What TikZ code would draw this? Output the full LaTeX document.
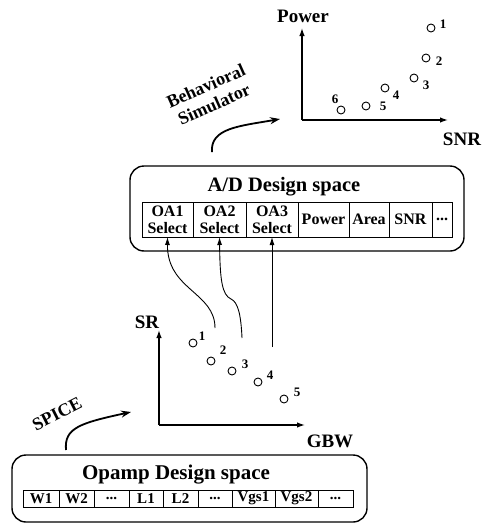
\documentclass[tikz,border=0pt]{standalone}
\usepackage{fontspec}
\setmainfont{Liberation Serif}
\usetikzlibrary{arrows.meta}
\begin{document}
\begin{tikzpicture}[x=1pt,y=-1pt,
  every node/.style={inner sep=0pt, outer sep=0pt},
  title/.style={font=\fontsize{20.5}{22}\selectfont\bfseries},
  axlab/.style={font=\fontsize{19}{21}\selectfont\bfseries},
  tool/.style={font=\fontsize{18}{20}\selectfont\bfseries, align=center},
  adfont/.style={font=\fontsize{16}{17}\selectfont\bfseries},
  opfont/.style={font=\fontsize{15}{16}\selectfont\bfseries},
  num/.style={font=\fontsize{13}{14}\selectfont\bfseries},
  axis/.style={line width=1.3pt, -{Latex[length=8pt,width=5.5pt]}},
  dot/.style={circle, draw, line width=0.9pt, minimum size=8pt},
  cell/.style={draw, line width=0.8pt, rectangle, align=center},
  adcell/.style={cell, adfont, minimum height=35pt},
  opcell/.style={cell, opfont, minimum height=17pt},
  dbox/.style={draw, line width=1.4pt, rounded corners=14pt, rectangle},
  flow/.style={line width=1.8pt, -{Stealth[length=10pt,width=7pt]}},
  link/.style={line width=0.9pt, -{Latex[length=8pt,width=5pt]}},
]
\useasboundingbox (0,0) rectangle (490,525);

% ---------- Power vs SNR plot ----------
\coordinate (po) at (302,120);
\coordinate (py) at (302,28);
\coordinate (px) at (448,120);
\draw[axis] (po) -- (py);
\draw[axis] (po) -- (px);
\node[axlab] (plab) at (303,16) {Power};
\node[axlab] (snrlab) at (462,139) {SNR};
\node[dot] (q1) at (431,28) {};  \node[num] (ql1) at (443,24) {1};
\node[dot] (q2) at (426,58) {};  \node[num] (ql2) at (439,61) {2};
\node[dot] (q3) at (414,78) {};  \node[num] (ql3) at (426,85) {3};
\node[dot] (q4) at (385,88) {};  \node[num] (ql4) at (396,95) {4};
\node[dot] (q5) at (366,106) {}; \node[num] (ql5) at (383,106) {5};
\node[dot] (q6) at (341,110) {}; \node[num] (ql6) at (335,99) {6};

% ---------- behavioral simulator step ----------
\node[tool, rotate=24] (beh) at (210,95) {Behavioral\\Simulator};
\coordinate (bs) at (212,152);
\coordinate (be) at (280,119);
\draw[flow] (bs) .. controls (210,128) and (240,126) .. (be);

% ---------- A/D design space ----------
\node[dbox, minimum width=334pt, minimum height=85pt] (adbox) at (297,208.5) {};
\node[title] (adtitle) at (284,187) {A/D Design space};
\node[adcell, minimum width=51pt] (oa1) at (167.5,219.5) {OA1\\Select};
\node[adcell, minimum width=53pt] (oa2) at (219.5,219.5) {OA2\\Select};
\node[adcell, minimum width=52pt] (oa3) at (272,219.5) {OA3\\Select};
\node[adcell, minimum width=51pt] (pw) at (323.5,219.5) {Power};
\node[adcell, minimum width=40pt] (ar) at (369,219.5) {Area};
\node[adcell, minimum width=43pt] (sn) at (410.5,219.5) {SNR};
\node[adcell, minimum width=20pt] (dd) at (442,219.5) {...};

% ---------- SR vs GBW plot ----------
\coordinate (so) at (159,425);
\coordinate (sy) at (159,330);
\coordinate (sx) at (305,425);
\draw[axis] (so) -- (sy);
\draw[axis] (so) -- (sx);
\node[axlab] (srlab) at (147,322) {SR};
\node[axlab] (gbwlab) at (330,441) {GBW};
\node[dot] (r1) at (193,343) {}; \node[num] (rl1) at (202,336) {1};
\node[dot] (r2) at (211,361) {}; \node[num] (rl2) at (223,350) {2};
\node[dot] (r3) at (232,371) {}; \node[num] (rl3) at (245,364) {3};
\node[dot] (r4) at (258,382) {}; \node[num] (rl4) at (270,375) {4};
\node[dot] (r5) at (284,399) {}; \node[num] (rl5) at (297,392) {5};

% ---------- selections feeding the A/D table ----------
\coordinate (c1) at (215,328);
\coordinate (c2) at (242,338);
\coordinate (c3) at (272,347);
\draw[link] (c1) .. controls (215,292) and (167,290) .. (oa1.south);
\draw[link] (c2) .. controls (241,315) and (238,302) .. (231,299)
                 .. controls (222,295) and (220,280) .. (oa2.south);
\draw[link] (c3) -- (oa3.south);

% ---------- SPICE step ----------
\node[tool, rotate=27] (spice) at (57,414) {SPICE};
\coordinate (ss) at (66,450);
\coordinate (se) at (131,412);
\draw[flow] (ss) .. controls (64,428) and (80,423) .. (se);

% ---------- Opamp design space ----------
\node[dbox, minimum width=355pt, minimum height=67pt] (opbox) at (189.5,488.5) {};
\node[title, font=\fontsize{21}{23}\selectfont\bfseries] (optitle) at (176,475) {Opamp Design space};
\node[opcell, minimum width=36pt] (w1) at (41,498.5) {W1};
\node[opcell, minimum width=35pt] (w2) at (76.5,498.5) {W2};
\node[opcell, minimum width=35pt] (wd) at (111.5,498.5) {...};
\node[opcell, minimum width=34pt] (l1) at (146,498.5) {L1};
\node[opcell, minimum width=35pt] (l2) at (180.5,498.5) {L2};
\node[opcell, minimum width=34pt] (ld) at (215,498.5) {...};
\node[opcell, minimum width=43pt] (v1) at (253.5,498.5) {Vgs1};
\node[opcell, minimum width=43pt] (v2) at (296.5,498.5) {Vgs2};
\node[opcell, minimum width=35pt] (vd) at (335.5,498.5) {...};
\end{tikzpicture}
\end{document}
